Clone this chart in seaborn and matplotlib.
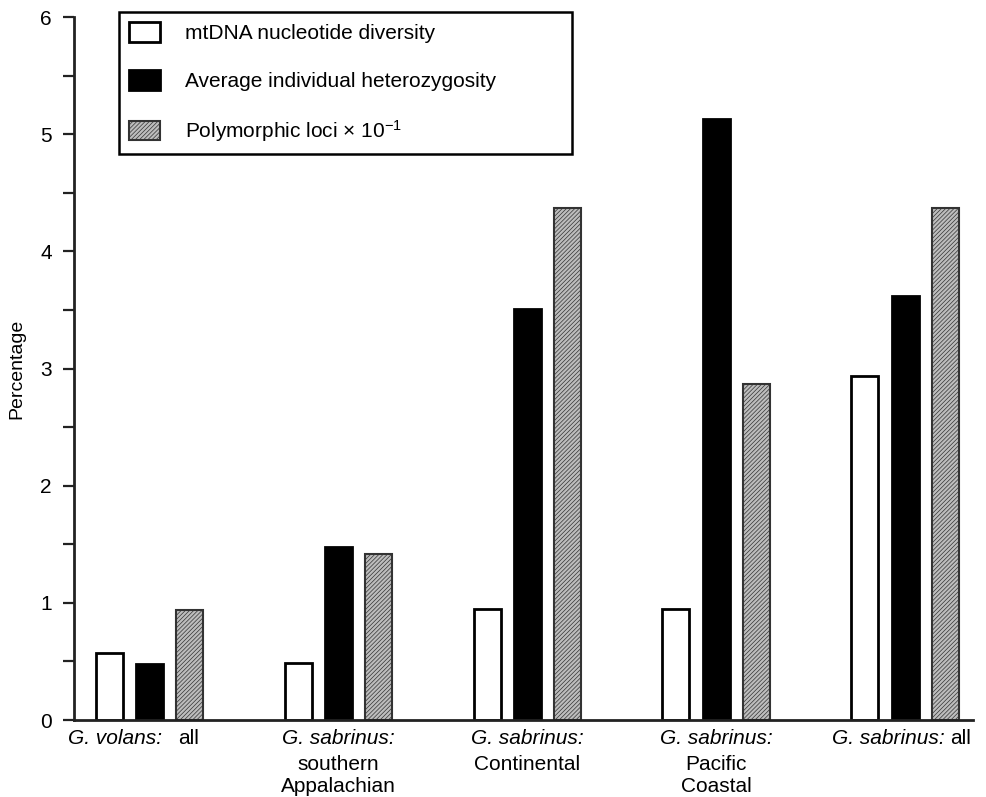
import numpy as np
import pandas as pd
import matplotlib.pyplot as plt
import seaborn as sns

# data
species = ['G. volans:', 'G. sabrinus:', 'G. sabrinus:', 'G. sabrinus:', 'G. sabrinus:']
regions = ['all', 'southern\nAppalachian', 'Continental', 'Pacific\nCoastal', 'all']
measures = ['mtDNA nucleotide diversity',
            'Average individual heterozygosity',
            r'Polymorphic loci $\times$ 10$^{-1}$']
mtdna = [0.57, 0.49, 0.95, 0.95, 2.94]
heterozygosity = [0.48, 1.48, 3.51, 5.13, 3.62]
polymorphic = [0.94, 1.42, 4.37, 2.87, 4.37]

groups = ['grp%d' % i for i in range(len(species))]
df = pd.DataFrame({'group': groups * 3,
                   'measure': [measures[0]] * 5 + [measures[1]] * 5 + [measures[2]] * 5,
                   'value': mtdna + heterozygosity + polymorphic})

sns.set_style('ticks')
plt.rcParams['font.family'] = ['Liberation Sans', 'DejaVu Sans']
plt.rcParams['mathtext.fontset'] = 'custom'
plt.rcParams['mathtext.rm'] = 'Liberation Sans'
plt.rcParams['mathtext.it'] = 'Liberation Sans:italic'
plt.rcParams['hatch.linewidth'] = 0.5
for key in ['text.color', 'axes.labelcolor', 'xtick.color', 'ytick.color']:
    plt.rcParams[key] = 'black'

fig = plt.figure(figsize=(9.86, 7.97), dpi=100)
ax = fig.add_axes([0.075, 0.0966, 0.912, 0.882])

sns.barplot(data=df, x='group', y='value', hue='measure', hue_order=measures,
            palette=['white', 'black', '#bdbdbd'], width=0.64, gap=0.33,
            edgecolor='black', linewidth=2, saturation=1, legend=False, ax=ax)

# hatched grey bars
for bar in ax.containers[2]:
    bar.set_edgecolor('#333333')
    bar.set_hatch('////////')
    bar.set_linewidth(1.5)

ax.set_xlim(-0.40, 4.36)
ax.set_ylim(0, 6)
ax.set_yticks(range(7))
ax.set_yticks(np.arange(0.5, 6, 1), minor=True)
ax.tick_params(axis='y', which='both', length=8, width=1.6, direction='out',
               labelsize=15, pad=8, color='#222222')
ax.tick_params(axis='x', length=0, labelbottom=False)
ax.set_xlabel('')
ax.set_ylabel('Percentage', fontsize=14)
ax.yaxis.set_label_coords(-0.054, 0.5)
sns.despine(ax=ax)
for side in ['left', 'bottom']:
    ax.spines[side].set_linewidth(2)
    ax.spines[side].set_color('#222222')

# category labels: italic species + roman region
trans = ax.get_xaxis_transform()
for i, (sp, rg) in enumerate(zip(species, regions)):
    if rg == 'all':
        shift = 0.065 if i == 0 else 0.21
        gap = 12 if i == 0 else 4
        t = ax.text(i + shift, -0.013, sp, style='italic', ha='right', va='top',
                    fontsize=15, transform=trans)
        ax.annotate(rg, xy=(1, 0), xycoords=t, xytext=(gap, 0),
                    textcoords='offset points', ha='left', va='bottom', fontsize=15)
    else:
        ax.text(i, -0.013, sp, style='italic', ha='center', va='top',
                fontsize=15, transform=trans)
        ax.text(i, -0.05, rg, ha='center', va='top', fontsize=15,
                linespacing=1.2, transform=trans)

handles = [c[0] for c in ax.containers]
leg = ax.legend(handles, measures, loc='upper left',
                bbox_to_anchor=(0.1207, 0.805, 0.459, 0.18),
                bbox_transform=fig.transFigure, mode='expand', borderaxespad=0,
                fancybox=False, framealpha=1, edgecolor='black', fontsize=15,
                handlelength=1.45, handleheight=1.05, labelspacing=1.3,
                handletextpad=1.2, borderpad=0.5)
leg.get_frame().set_linewidth(1.8)

fig.savefig('out.png', dpi=100)
